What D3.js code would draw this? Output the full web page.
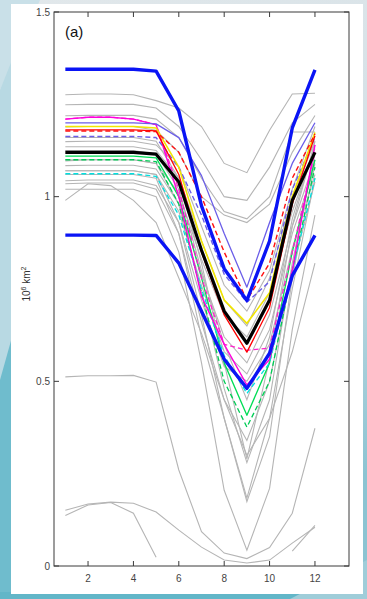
<!DOCTYPE html>
<html>
<head>
<meta charset="utf-8">
<script src="https://cdn.jsdelivr.net/npm/d3@7"></script>
<style>
  html,body{margin:0;padding:0;background:#dfe6ea;}
  svg{display:block;}
  text{font-family:"Liberation Sans", Arial, Helvetica, sans-serif;}
</style>
</head>
<body>
<svg id="chart" width="367" height="599"></svg>
<script>
// ---------- DATA ----------
const months = [1,2,3,4,5,6,7,8,9,10,11,12];
const xTicks = [2,4,6,8,10,12];
const yTicks = [0,0.5,1,1.5];
const yTickLabels = ["0","0.5","1","1.5"];
const panelLabel = "(a)";

// grey model members (10^6 km^2), months 1..12 (null = missing)
const greySeries = [
  [1.276,1.278,1.278,1.276,1.26,1.24,1.19,1.09,1.065,1.18,1.278,1.28],
  [1.249,1.25,1.25,1.25,1.24,1.19,1.10,1.00,0.99,1.08,1.20,1.25],
  [1.219,1.22,1.22,1.22,1.21,1.16,1.05,0.96,0.94,1.00,1.175,1.175],
  [1.189,1.19,1.19,1.19,1.18,1.12,1.00,0.95,0.93,0.98,1.12,1.22],
  [1.149,1.15,1.15,1.15,1.14,1.08,0.92,0.76,0.69,0.80,1.02,1.19],
  [1.135,1.135,1.135,1.135,1.125,1.05,0.88,0.72,0.65,0.78,1.00,1.15],
  [1.097,1.10,1.10,1.10,1.09,1.01,0.83,0.68,0.62,0.74,0.96,1.13],
  [1.084,1.085,1.085,1.085,1.075,0.98,0.79,0.62,0.55,0.68,0.92,1.10],
  [1.07,1.07,1.07,1.07,1.06,0.96,0.76,0.58,0.52,0.64,0.90,1.08],
  [1.043,1.045,1.045,1.045,1.03,0.93,0.72,0.54,0.50,0.60,0.86,1.06],
  [1.035,1.037,1.037,1.037,1.02,0.90,0.66,0.45,0.34,0.50,0.80,1.04],
  [1.125,1.125,1.125,1.125,1.115,1.02,0.80,0.60,0.45,0.62,0.94,1.14],
  [1.16,1.16,1.16,1.16,1.15,1.05,0.82,0.55,0.29,0.56,0.92,1.15],
  [1.10,1.10,1.10,1.10,1.09,0.98,0.74,0.48,0.28,0.45,0.82,1.12],
  [1.07,1.07,1.07,1.07,1.06,0.93,0.68,0.40,0.174,0.35,0.78,1.09],
  [1.06,1.06,1.06,1.06,1.05,0.90,0.62,0.40,0.184,0.40,0.75,1.05],
  [1.02,1.02,1.02,1.02,1.00,0.85,0.55,0.205,0.043,0.21,0.64,0.95],
  [0.99,1.035,1.03,0.99,0.93,0.78,0.63,0.45,0.30,0.40,0.58,0.82],
  [0.512,0.515,0.515,0.516,0.498,0.26,0.093,0.035,0.02,0.05,0.143,0.373],
  [0.151,0.168,0.173,0.17,0.146,0.097,0.051,0.016,0.008,0.016,0.062,0.105],
  [0.137,0.165,0.172,0.143,0.024,null,null,null,null,null,0.04,0.11]
];

// coloured members
const magentaSolid = [1.21,1.215,1.215,1.21,1.195,1.00,0.73,0.60,0.49,0.56,0.80,1.14];
const magentaDash  = [1.21,1.215,1.215,1.21,1.195,1.02,0.78,0.60,0.584,0.59,0.85,1.12];
const purpleSolid  = [1.20,1.20,1.20,1.20,1.197,1.16,1.057,0.90,0.755,0.93,1.09,1.20];
const purpleDash   = [1.163,1.163,1.163,1.163,1.16,1.08,0.95,0.79,0.714,0.77,1.02,1.16];
const yellowSolid  = [1.19,1.19,1.19,1.19,1.186,1.08,0.88,0.72,0.657,0.74,1.00,1.174];
const redSolid     = [1.181,1.181,1.181,1.181,1.178,1.06,0.85,0.68,0.579,0.70,0.98,1.165];
const redDash      = [1.178,1.178,1.178,1.178,1.176,1.12,1.00,0.85,0.72,0.82,1.05,1.17];
const greenSolid   = [1.11,1.11,1.11,1.11,1.105,1.00,0.78,0.55,0.408,0.55,0.85,1.10];
const greenDash    = [1.10,1.10,1.10,1.10,1.095,0.98,0.74,0.50,0.376,0.50,0.80,1.08];
const cyanDash     = [1.062,1.062,1.062,1.062,1.055,0.95,0.75,0.57,0.467,0.55,0.80,1.05];
const blackMean    = [1.12,1.12,1.12,1.12,1.115,1.04,0.855,0.69,0.603,0.72,0.99,1.12];
const blueUpper    = [1.345,1.345,1.345,1.345,1.34,1.232,0.975,0.805,0.719,0.88,1.186,1.343];
const blueLower    = [0.896,0.896,0.896,0.896,0.895,0.82,0.69,0.56,0.481,0.576,0.786,0.895];

// ---------- DRAW ----------
const svg = d3.select("#chart");
const W = 367, H = 599;

// background decoration
const defs = svg.append("defs");
const bg = defs.append("linearGradient").attr("id","bgGrad").attr("x1","0").attr("y1","0").attr("x2","0.3").attr("y2","1");
bg.append("stop").attr("offset","0").attr("stop-color","#e2e8eb");
bg.append("stop").attr("offset","0.55").attr("stop-color","#d3e0e6");
bg.append("stop").attr("offset","1").attr("stop-color","#8cc4d2");
svg.append("rect").attr("width",W).attr("height",H).attr("fill","url(#bgGrad)");
svg.append("path").attr("d","M0,0 L40,0 L0,90 Z").attr("fill","#c9e0e8");
svg.append("path").attr("d","M0,90 L14,55 L14,599 L0,599 Z").attr("fill","#b8d9e3");
svg.append("path").attr("d","M0,380 L14,330 L14,599 L0,599 Z").attr("fill","#6fbccd");
svg.append("rect").attr("x",0).attr("y",592).attr("width",W).attr("height",7).attr("fill","#62b6c8");
svg.append("path").attr("d","M290,599 L367,560 L367,599 Z").attr("fill","#9fcdd9");

// white panel
svg.append("rect").attr("x",11).attr("y",4).attr("width",352).attr("height",590).attr("fill","#ffffff");

const x = d3.scaleLinear().domain([0.5,13.5]).range([54,349]);
const y = d3.scaleLinear().domain([0,1.5]).range([566,12]);

const line = d3.line()
  .defined(d => d != null)
  .x((d,i) => x(months[i]))
  .y(d => y(d));

const g = svg.append("g");

// grey lines
greySeries.forEach(s => {
  g.append("path").attr("d", line(s)).attr("fill","none")
    .attr("stroke","#b5b5b5").attr("stroke-width",1.1);
});

const coloured = [
  {d: greenDash,    c:"#00cc55", w:1.3, dash:"5,3"},
  {d: greenSolid,   c:"#00dd55", w:1.3, dash:null},
  {d: cyanDash,     c:"#00e0e0", w:1.3, dash:"5,3"},
  {d: magentaDash,  c:"#ff22cc", w:1.3, dash:"5,3"},
  {d: magentaSolid, c:"#ff00dd", w:1.4, dash:null},
  {d: purpleDash,   c:"#6b5ee8", w:1.4, dash:"5,3"},
  {d: purpleSolid,  c:"#6b5ee8", w:1.3, dash:null},
  {d: yellowSolid,  c:"#f2e600", w:1.6, dash:null},
  {d: redSolid,     c:"#ff0000", w:1.3, dash:null},
  {d: redDash,      c:"#ff1010", w:1.4, dash:"5,3"}
];
coloured.forEach(o => {
  const p = g.append("path").attr("d", line(o.d)).attr("fill","none")
    .attr("stroke", o.c).attr("stroke-width", o.w).attr("stroke-linejoin","round");
  if (o.dash) p.attr("stroke-dasharray", o.dash);
});

g.append("path").attr("d", line(blackMean)).attr("fill","none")
  .attr("stroke","#000").attr("stroke-width",3.2).attr("stroke-linejoin","round");
[blueUpper, blueLower].forEach(s => {
  g.append("path").attr("d", line(s)).attr("fill","none")
    .attr("stroke","#0a14f5").attr("stroke-width",3.4).attr("stroke-linejoin","round");
});

// axes box
const axC = "#3a3a3a";
svg.append("rect").attr("x",54).attr("y",12).attr("width",295).attr("height",554)
  .attr("fill","none").attr("stroke",axC).attr("stroke-width",1);

const ax = svg.append("g").attr("stroke",axC).attr("stroke-width",1);
xTicks.forEach(t => {
  ax.append("line").attr("x1",x(t)).attr("x2",x(t)).attr("y1",566).attr("y2",561);
  ax.append("line").attr("x1",x(t)).attr("x2",x(t)).attr("y1",12).attr("y2",17);
});
yTicks.forEach(t => {
  ax.append("line").attr("x1",54).attr("x2",59).attr("y1",y(t)).attr("y2",y(t));
  ax.append("line").attr("x1",349).attr("x2",344).attr("y1",y(t)).attr("y2",y(t));
});

svg.append("g").selectAll("text").data(xTicks).join("text")
  .attr("x", d => x(d)).attr("y", 582).attr("text-anchor","middle")
  .attr("font-size",10).attr("fill","#444").text(d => d);
svg.append("g").selectAll("text").data(yTicks).join("text")
  .attr("x", 50).attr("y", d => y(d) + 3.5).attr("text-anchor","end")
  .attr("font-size",10).attr("fill","#444").text((d,i) => yTickLabels[i]);

// panel label
svg.append("text").attr("x",65).attr("y",37).attr("font-size",15).attr("fill","#111").text(panelLabel);

// y label 10^6 km^2
const yl = svg.append("text").attr("transform","translate(30,284) rotate(-90)")
  .attr("text-anchor","middle").attr("font-size",10).attr("fill","#333");
yl.append("tspan").text("10");
yl.append("tspan").attr("dy",-4).attr("font-size",7).text("6");
yl.append("tspan").attr("dy",4).text(" km");
yl.append("tspan").attr("dy",-4).attr("font-size",7).text("2");
</script>
</body>
</html>
